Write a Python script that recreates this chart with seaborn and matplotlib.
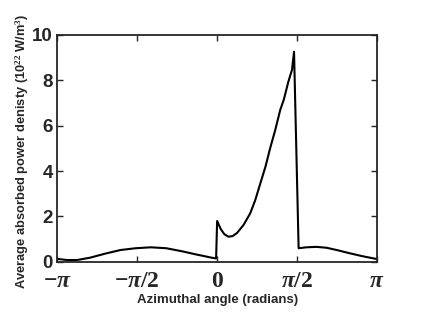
import numpy as np
import pandas as pd
import matplotlib
matplotlib.use('Agg')
import matplotlib.pyplot as plt
import seaborn as sns

# azimuthal angle (rad) and averaged absorbed power density (1e22 W/m^3)
angle = [-3.14, -2.95, -2.75, -2.5, -2.2, -1.9, -1.6, -1.3, -1.0, -0.7, -0.4, -0.1, -0.02,
         0.0, 0.07, 0.14, 0.22, 0.30, 0.39, 0.52, 0.65, 0.75, 0.85, 0.95, 1.04, 1.14, 1.24,
         1.31, 1.40, 1.47, 1.51,
         1.60, 1.75, 1.95, 2.15, 2.35, 2.6, 2.85, 3.12]
density = [0.13, 0.08, 0.08, 0.18, 0.36, 0.52, 0.60, 0.64, 0.60, 0.47, 0.32, 0.18, 0.15,
           1.80, 1.45, 1.22, 1.11, 1.13, 1.27, 1.63, 2.14, 2.73, 3.47, 4.2, 5.0, 5.8, 6.7,
           7.15, 7.95, 8.46, 9.26,
           0.60, 0.64, 0.66, 0.62, 0.52, 0.38, 0.25, 0.13]

xticks = [-np.pi, -np.pi / 2, 0, np.pi / 2, np.pi]
xticklabels = [r'$-\pi$', r'$-\pi/2$', r'$\mathbf{0}$', r'$\pi/2$', r'$\pi$']
yticks = [0, 2, 4, 6, 8, 10]

df = pd.DataFrame({'angle': angle, 'density': density})

sns.set_style('ticks')
plt.rcParams['font.family'] = ['Liberation Sans', 'DejaVu Sans']
plt.rcParams['mathtext.fontset'] = 'custom'
plt.rcParams['mathtext.rm'] = 'Liberation Serif:bold'
plt.rcParams['mathtext.it'] = 'Liberation Serif:bold:italic'
plt.rcParams['mathtext.bf'] = 'Liberation Serif:bold'

fig = plt.figure(figsize=(4.36, 3.17), dpi=100)
ax = fig.add_subplot(111)
fig.subplots_adjust(left=0.131, right=0.865, top=0.890, bottom=0.174)

sns.lineplot(data=df, x='angle', y='density', color='black', linewidth=1.5, ax=ax,
             sort=False, estimator=None)

ax.set_xlim(-np.pi, np.pi)
ax.set_ylim(0, 10)
ax.set_xticks(xticks)
ax.set_xticklabels(xticklabels, fontsize=17)
ax.set_yticks(yticks)
ax.set_yticklabels([str(v) for v in yticks], fontsize=13.5, fontweight='bold')
ax.tick_params(direction='in', length=4, width=1, top=True, right=True)
ax.tick_params(axis='x', pad=6)
ax.tick_params(axis='y', pad=3)
for s in ax.spines.values():
    s.set_linewidth(1.3)
    s.set_visible(True)

ax.set_xlabel('Azimuthal angle (radians)', fontsize=9.5, fontweight='bold', labelpad=1)
ax.set_ylabel(r'Average absorbed power denisty (10$^{22}$ W/m$^{3}$)', fontsize=9.3,
              fontweight='bold')
ax.yaxis.set_label_coords(-0.082, 0.487)

fig.savefig('out.png', dpi=100)
